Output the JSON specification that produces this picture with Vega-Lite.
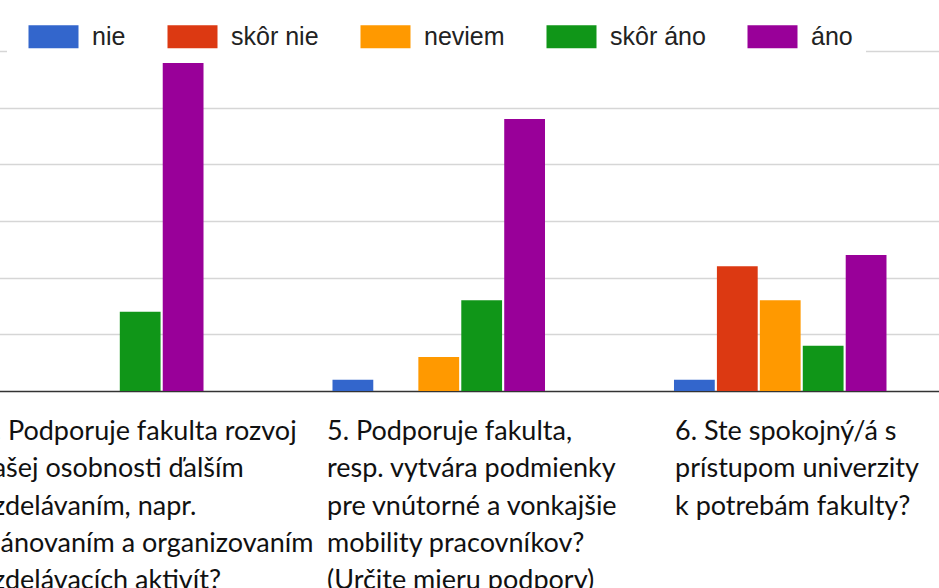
{
  "$schema": "https://vega.github.io/schema/vega-lite/v6.json",
  "width": 931,
  "height": 340,
  "autosize": {"type": "none"},
  "padding": {"left": 8, "top": 51, "right": 0, "bottom": 197},
  "background": "white",
  "config": {"view": {"stroke": null}},
  "layer": [
    {
      "data": {
        "values": [
          {"otazka": "Q4", "odpoved": "skôr áno", "pocet": 7},
          {"otazka": "Q4", "odpoved": "áno", "pocet": 29},
          {"otazka": "Q5", "odpoved": "nie", "pocet": 1},
          {"otazka": "Q5", "odpoved": "neviem", "pocet": 3},
          {"otazka": "Q5", "odpoved": "skôr áno", "pocet": 8},
          {"otazka": "Q5", "odpoved": "áno", "pocet": 24},
          {"otazka": "Q6", "odpoved": "nie", "pocet": 1},
          {"otazka": "Q6", "odpoved": "skôr nie", "pocet": 11},
          {"otazka": "Q6", "odpoved": "neviem", "pocet": 8},
          {"otazka": "Q6", "odpoved": "skôr áno", "pocet": 4},
          {"otazka": "Q6", "odpoved": "áno", "pocet": 12}
        ]
      },
      "mark": {"type": "bar"},
      "encoding": {
        "x": {
          "field": "otazka",
          "type": "nominal",
          "sort": ["Q4", "Q5", "Q6"],
          "scale": {"range": [-81.5, 943], "paddingInner": 0.3777, "paddingOuter": 0.1889},
          "axis": null
        },
        "xOffset": {
          "field": "odpoved",
          "type": "nominal",
          "scale": {"domain": ["nie", "skôr nie", "neviem", "skôr áno", "áno"], "paddingInner": 0.05, "paddingOuter": 0}
        },
        "y": {
          "field": "pocet",
          "type": "quantitative",
          "scale": {"domain": [0, 30], "nice": false},
          "axis": {
            "values": [0, 5, 10, 15, 20, 25, 30],
            "labels": false,
            "ticks": false,
            "domain": false,
            "title": null,
            "grid": true,
            "gridColor": {"condition": {"test": "datum.value === 0", "value": "#333333"}, "value": "#d6d6d6"},
            "gridWidth": {"condition": {"test": "datum.value === 0", "value": 1.6}, "value": 1.5}
          }
        },
        "color": {
          "field": "odpoved",
          "type": "nominal",
          "scale": {
            "domain": ["nie", "skôr nie", "neviem", "skôr áno", "áno"],
            "range": ["#3366cc", "#dc3912", "#ff9900", "#109618", "#990099"]
          },
          "legend": {
            "orient": "none",
            "legendX": 4,
            "legendY": -35,
            "direction": "horizontal",
            "title": "\u00a0",
            "titleOrient": "left",
            "titleFont": "Liberation Sans",
            "titleFontSize": 25,
            "titlePadding": 8,
            "symbolType": "M-2.174,-1H2.174V1H-2.174Z",
            "symbolSize": 529,
            "symbolOffset": 13,
            "symbolStrokeWidth": 0,
            "symbolOpacity": 1,
            "labelOffset": 26,
            "labelFont": "Liberation Sans",
            "labelFontSize": 25,
            "labelColor": "#222222",
            "labelLimit": 0,
            "columnPadding": 41,
            "padding": 8,
            "fillColor": "white",
            "strokeColor": "white",
            "encode": {"legend": {"update": {"strokeWidth": {"value": 10}}}}
          }
        }
      }
    },
    {
      "data": {
        "values": [
          {"otazka": "Q4", "text": "4. Podporuje fakulta rozvoj\nvašej osobnosti ďalším\nvzdelávaním, napr.\nplánovaním a organizovaním\nvzdelávacích aktivít?"},
          {"otazka": "Q5", "text": "5. Podporuje fakulta,\nresp. vytvára podmienky\npre vnútorné a vonkajšie\nmobility pracovníkov?\n(Určite mieru podpory)"},
          {"otazka": "Q6", "text": "6. Ste spokojný/á s\nprístupom univerzity\nk potrebám fakulty?"}
        ]
      },
      "mark": {
        "type": "text",
        "align": "left",
        "baseline": "top",
        "dy": 28,
        "lineBreak": "\n",
        "lineHeight": 37.3,
        "font": "Lato",
        "fontSize": 27,
        "color": "#111111"
      },
      "encoding": {
        "x": {
          "field": "otazka",
          "type": "nominal",
          "sort": ["Q4", "Q5", "Q6"],
          "scale": {"type": "point", "range": [-29, 667], "padding": 0},
          "axis": null
        },
        "y": {"datum": 0, "type": "quantitative"},
        "text": {"field": "text"}
      }
    }
  ],
  "resolve": {"scale": {"x": "independent"}}
}
